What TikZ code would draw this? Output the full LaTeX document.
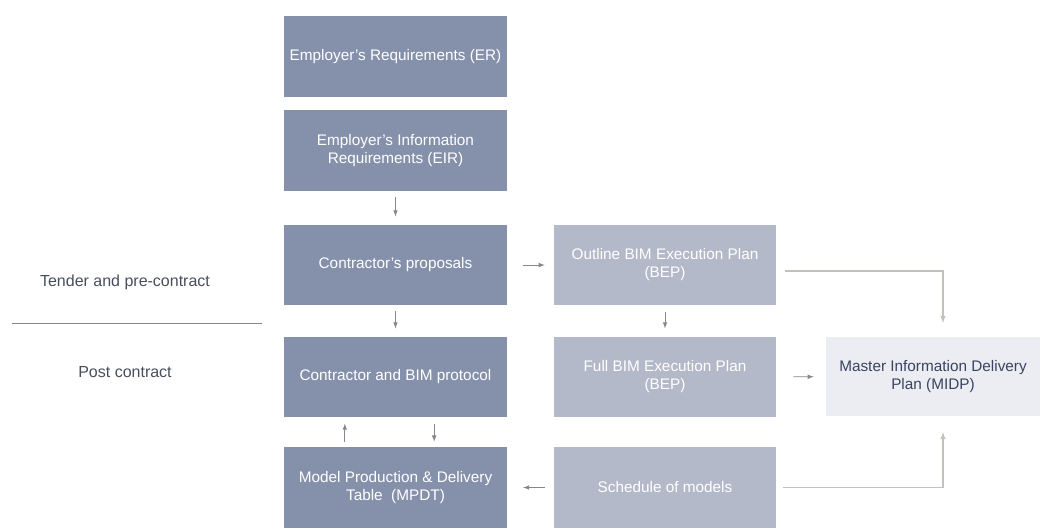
\documentclass[tikz,border=0pt]{standalone}
\usepackage{fontspec}
\setmainfont{Liberation Sans}
\definecolor{boxdark}{RGB}{133,145,170}
\definecolor{boxlight}{RGB}{180,185,201}
\definecolor{boxpale}{RGB}{235,237,242}
\definecolor{midptext}{RGB}{58,68,96}
\definecolor{labeltext}{RGB}{72,78,92}
\definecolor{arrowgrey}{RGB}{135,135,135}
\definecolor{linkgrey}{RGB}{198,192,189}

\begin{document}
\begin{tikzpicture}[
	x=0.75pt, y=-0.75pt,
	font=\fontsize{11.5}{13.5}\selectfont,
	darkbox/.style={fill=boxdark, text=white, minimum width=167pt, minimum height=60.5pt, inner sep=0pt, align=center},
	lightbox/.style={darkbox, fill=boxlight},
	palebox/.style={darkbox, fill=boxpale, text=midptext, minimum width=160.5pt, minimum height=59pt},
	phaselabel/.style={text=labeltext, font=\fontsize{12}{14}\selectfont},
	stepline/.style={->, >=latex, draw=arrowgrey, semithick},
	linkline/.style={->, >=latex, draw=linkgrey, thick}
	]
	\useasboundingbox (0, 0) rectangle (1041, 529);

	\node (er) at (395.5, 56.5) [darkbox] {Employer's Requirements (ER)};
	\node (eir) at (395.5, 150.5) [darkbox] {Employer's Information\\Requirements (EIR)};
	\node (proposals) at (395.5, 265) [darkbox] {Contractor's proposals};
	\node (protocol) at (395.5, 377) [darkbox] {Contractor and BIM protocol};
	\node (mpdt) at (395.5, 487.5) [darkbox] {Model Production \& Delivery\\Table\ \ (MPDT)};

	\node (outline) at (665, 265) [lightbox] {Outline BIM Execution Plan\\(BEP)};
	\node (fullbep) at (665, 377) [lightbox] {Full BIM Execution Plan\\(BEP)};
	\node (schedule) at (665, 487.5) [lightbox] {Schedule of models};

	\node (midp) at (933, 376.5) [palebox] {Master Information Delivery\\Plan (MIDP)};

	\node (tender) at (125, 282) [phaselabel] {Tender and pre-contract};
	\node (post) at (125, 372) [phaselabel] {Post contract};
	\draw [arrowgrey] (12, 323) -- (262, 323);

	\draw [stepline, shorten <=4.5pt, shorten >=6pt] (eir) -- (proposals);
	\draw [stepline, shorten <=4pt, shorten >=6pt] (proposals) -- (protocol);
	\draw [stepline, shorten <=12pt, shorten >=6.5pt] (proposals) -- (outline);
	\draw [stepline, shorten <=5pt, shorten >=6pt] (outline) -- (fullbep);
	\draw [stepline, shorten <=12.5pt, shorten >=9pt] (fullbep) -- (midp);
	\draw [stepline, shorten <=6.5pt, shorten >=12pt] (schedule) -- (mpdt);
	\draw [stepline, shorten <=4pt, shorten >=4.5pt] ([xshift=-38pt]mpdt.north) -- ([xshift=-38pt]protocol.south);
	\draw [stepline, shorten <=4.5pt, shorten >=4pt] ([xshift=29pt]protocol.south) -- ([xshift=29pt]mpdt.north);

	\draw [linkline, shorten <=6.5pt, shorten >=10.5pt] ([yshift=-4.5pt]outline.east) -| ([xshift=7.5pt]midp.north);
	\draw [linkline, shorten <=5pt, shorten >=12pt] (schedule.east) -| ([xshift=7.5pt]midp.south);
\end{tikzpicture}
\end{document}
